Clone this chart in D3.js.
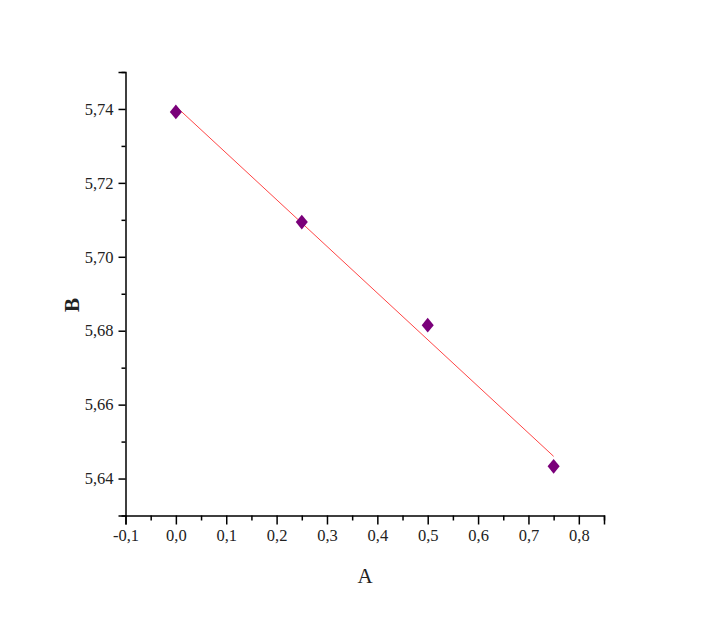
<!DOCTYPE html>
<html><head><meta charset="utf-8">
<script src="https://cdn.jsdelivr.net/npm/d3@7"></script>
<style>body{margin:0;background:#fff}svg{display:block}</style>
</head><body>
<script>
const xValues = [0, 0.25, 0.5, 0.75];
const yValues = [5.7392, 5.7094, 5.6815, 5.6433];
const xMajorTicks = [-0.1, 0, 0.1, 0.2, 0.3, 0.4, 0.5, 0.6, 0.7, 0.8];
const xMinorTicks = [-0.05, 0.05, 0.15, 0.25, 0.35, 0.45, 0.55, 0.65, 0.75, 0.85];
const yMajorTicks = [5.64, 5.66, 5.68, 5.70, 5.72, 5.74];
const yMinorTicks = [5.63, 5.65, 5.67, 5.69, 5.71, 5.73, 5.75];
const xTitle = "A", yTitle = "B";

const W = 702, H = 618;
const svg = d3.select("body").append("svg").attr("width", W).attr("height", H);
const x = d3.scaleLinear().domain([-0.1, 0.85]).range([125.5, 604]);
const y = d3.scaleLinear().domain([5.63, 5.75]).range([515.5, 72]);
const fmt = d => d3.format(".1f")(d).replace(".", ",").replace("\u2212", "-");
const fmtY = d => d3.format(".2f")(d).replace(".", ",");
const font = "'Liberation Serif', 'Times New Roman', serif";

// x axis
const gx = svg.append("g").attr("transform", `translate(0,${y.range()[0]})`);
gx.call(d3.axisBottom(x).tickValues(xMajorTicks).tickFormat(fmt).tickSize(9).tickPadding(5));
const gxm = svg.append("g").attr("transform", `translate(0,${y.range()[0]})`);
gxm.call(d3.axisBottom(x).tickValues(xMinorTicks).tickFormat(() => "").tickSize(5));
gxm.select(".domain").remove();
// y axis
const gy = svg.append("g").attr("transform", `translate(${x.range()[0]},0)`);
gy.call(d3.axisLeft(y).tickValues(yMajorTicks).tickFormat(fmtY).tickSize(7).tickPadding(5));
const gym = svg.append("g").attr("transform", `translate(${x.range()[0]},0)`);
gym.call(d3.axisLeft(y).tickValues(yMinorTicks).tickFormat(() => "").tickSize(4));
gym.select(".domain").remove();

svg.selectAll(".domain").attr("stroke", "#000").attr("stroke-width", 1.5);
svg.selectAll(".tick line").attr("stroke", "#000").attr("stroke-width", 1.5);
svg.selectAll(".tick text").attr("font-family", font).attr("font-size", 16.5).attr("fill", "#222");

// linear fit (least squares from the data)
const mx = d3.mean(xValues), my = d3.mean(yValues);
const slope = d3.sum(xValues.map((v, i) => (v - mx) * (yValues[i] - my))) / d3.sum(xValues.map(v => (v - mx) ** 2));
const icpt = my - slope * mx;
const xr = d3.extent(xValues);
svg.append("line")
  .attr("x1", x(xr[0])).attr("y1", y(icpt + slope * xr[0]))
  .attr("x2", x(xr[1])).attr("y2", y(icpt + slope * xr[1]))
  .attr("stroke", "#ff4545").attr("stroke-width", 1);

// points
svg.selectAll("path.pt").data(xValues.map((v, i) => [v, yValues[i]])).enter().append("path")
  .attr("class", "pt")
  .attr("d", d3.symbol(d3.symbolDiamond2, 110)())
  .attr("transform", d => `translate(${x(d[0])},${y(d[1])}) scale(0.92,1.12)`)
  .attr("fill", "#7a007a");

svg.append("text").attr("x", 365).attr("y", 583).attr("text-anchor", "middle")
  .attr("font-family", font).attr("font-size", 21).attr("fill", "#222").text(xTitle);
svg.append("text").attr("transform", "translate(79,305) rotate(-90)").attr("text-anchor", "middle")
  .attr("font-family", font).attr("font-size", 21).attr("font-weight", "bold").attr("fill", "#222").text(yTitle);
</script>
</body></html>
